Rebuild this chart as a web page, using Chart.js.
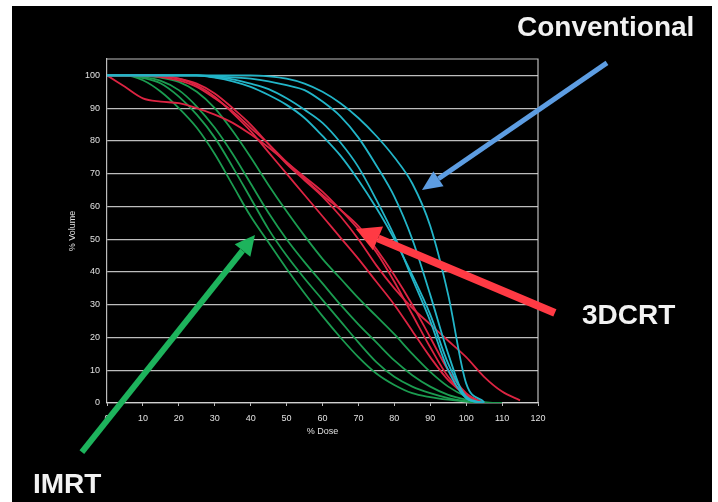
<!DOCTYPE html>
<html>
<head>
<meta charset="utf-8">
<script src="https://cdn.jsdelivr.net/npm/chart.js@4/dist/chart.umd.min.js"></script>
<style>
  body { margin: 0; background: #fff; }
  #slide { position: absolute; left: 12px; top: 6px; width: 700px; height: 496px; background: #000; }
  #chart { position: absolute; left: 0; top: 0; }
  .tag { position: absolute; color: #f2f2f2; font: bold 28px "Liberation Sans", Arial, sans-serif; line-height: 28px; white-space: nowrap; }
</style>
</head>
<body>
<div id="slide"></div>
<canvas id="chart" width="718" height="502"></canvas>
<div class="tag" style="left:517px; top:13px;">Conventional</div>
<div class="tag" style="left:582px; top:301px;">3DCRT</div>
<div class="tag" style="left:33px; top:470px;">IMRT</div>

<script>
// ================= DATA =================
const dose = [0, 5, 10, 15, 20, 25, 30, 35, 40, 45, 50, 55, 60, 65, 70, 75, 80, 85, 90, 95, 100, 105, 110, 115, 120];

// Conventional (cyan)
const conv1 = [100, 100, 100, 100, 100, 100, 100, 100, 100, 99.7, 99, 97.5, 95, 91.5, 87, 81.5, 75, 67, 54, 33, 6, 0.3];
const conv2 = [100, 100, 100, 100, 100, 100, 99.7, 99.4, 99, 98.2, 97, 95.5, 92, 87.5, 81, 72.5, 63, 50, 33, 15, 1.5, 0];
const conv3 = [100, 100, 100, 100, 100, 100, 99.5, 98.8, 97.5, 95.8, 93, 89.5, 85.5, 79.5, 72, 62, 51, 38, 25, 10, 1.5, 0];
const conv4 = [100, 100, 100, 100, 100, 100, 99.3, 98.2, 96.5, 94, 91, 87, 81.5, 75.5, 68, 59.5, 50, 39, 27, 12, 2, 0];

// 3DCRT (red)
const crt1 = [100, 96.5, 93, 92, 91.5, 90, 88, 85.5, 82, 78, 73.5, 69, 64.5, 59, 53, 46, 37, 27, 17, 8, 2.5, 0];
const crt2 = [100, 100, 100, 99.5, 98.5, 96.5, 93, 89, 84, 79, 73.5, 68.5, 63.5, 59, 54, 47, 39, 30, 20, 10, 3, 0];
const crt3 = [100, 100, 100, 99.7, 99, 97.5, 94.5, 90, 85, 79, 73, 68, 63, 57, 50, 42, 35, 29, 24, 19, 14, 8, 3.5, 0.8];
const crt4 = [100, 100, 100, 100, 99, 97, 93.5, 88.5, 83, 76.5, 70, 63.5, 57, 50.5, 44, 37, 30, 22, 14, 7, 2.5, 0];

// IMRT (green)
const imrt1 = [100, 100, 98.5, 95, 90, 84, 76, 66.5, 57, 49, 41, 33.5, 26.5, 20, 14, 9, 5.5, 3, 1.8, 1, 0.4, 0];
const imrt2 = [100, 100, 99.2, 97.5, 93.5, 88, 81, 72, 62.5, 53, 45, 38, 31.5, 25, 18.5, 12.5, 8, 5, 3, 1.5, 0.6, 0];
const imrt3 = [100, 100, 99.5, 98.3, 95.5, 90.5, 84, 76, 67, 58, 50, 43, 36.5, 30, 24, 18.5, 13, 8.5, 5, 2.5, 1, 0];
const imrt4 = [100, 100, 99.8, 99.3, 98, 95, 90, 83, 75, 66.5, 58.5, 51, 44, 38, 32, 26.5, 21, 15, 9.5, 5, 2, 0.3, 0];

// arrows: [tailDose, tailVol, tipDose, tipVol]
const arrowConv = [139.2, 103.8, 87.7, 65.0];
const arrowCrt = [124.7, 27.5, 69.3, 53.1];
const arrowImrt = [-7.0, -15.0, 41.2, 51.3];

const CYAN = "#22b5c8";
const RED = "#dc2442";
const GREEN = "#1b9c50";
const GRID = "rgba(210,210,210,0.9)";
const LABEL = "#e0e0e0";

// ================= HELPERS =================
function toPoints(vals) {
  return vals.map((v, i) => ({ x: dose[i], y: v }));
}

function curve(vals, color) {
  return {
    data: toPoints(vals),
    borderColor: color,
    borderWidth: 1.8,
    pointRadius: 0,
    fill: false,
    cubicInterpolationMode: "monotone",
  };
}

function drawArrow(ctx, x1, y1, x2, y2, color, width, headLen, headWidth) {
  const ang = Math.atan2(y2 - y1, x2 - x1);
  const bx = x2 - headLen * Math.cos(ang);
  const by = y2 - headLen * Math.sin(ang);
  ctx.save();
  ctx.strokeStyle = color;
  ctx.fillStyle = color;
  ctx.lineWidth = width;
  ctx.lineCap = "butt";
  ctx.beginPath();
  ctx.moveTo(x1, y1);
  ctx.lineTo(bx, by);
  ctx.stroke();
  const nx = -Math.sin(ang), ny = Math.cos(ang);
  ctx.beginPath();
  ctx.moveTo(x2, y2);
  ctx.lineTo(bx + nx * headWidth / 2, by + ny * headWidth / 2);
  ctx.lineTo(bx - nx * headWidth / 2, by - ny * headWidth / 2);
  ctx.closePath();
  ctx.fill();
  ctx.restore();
}

// ================= PLUGINS =================
const frame = {
  id: "frame",
  beforeDatasetsDraw(chart) {
    const { ctx, chartArea: a } = chart;
    ctx.save();
    ctx.strokeStyle = GRID;
    ctx.lineWidth = 1.2;
    ctx.beginPath();
    ctx.moveTo(a.left, a.top);
    ctx.lineTo(a.right, a.top);
    ctx.lineTo(a.right, a.bottom);
    ctx.stroke();
    ctx.restore();
  },
};

const arrows = {
  id: "arrows",
  afterDraw(chart) {
    const { ctx, scales } = chart;
    const px = (a) => [
      scales.x.getPixelForValue(a[0]), scales.y.getPixelForValue(a[1]),
      scales.x.getPixelForValue(a[2]), scales.y.getPixelForValue(a[3]),
    ];
    drawArrow(ctx, ...px(arrowConv), "#5d9de2", 5, 20, 18);
    drawArrow(ctx, ...px(arrowCrt), "#ff3a44", 8, 24, 26);
    drawArrow(ctx, ...px(arrowImrt), "#1db35c", 6, 20, 20);
  },
};

// ================= CHART =================
new Chart(document.getElementById("chart"), {
  type: "line",
  data: {
    datasets: [
      curve(conv1, CYAN), curve(conv2, CYAN), curve(conv3, CYAN), curve(conv4, CYAN),
      curve(crt1, RED), curve(crt2, RED), curve(crt3, RED), curve(crt4, RED),
      curve(imrt1, GREEN), curve(imrt2, GREEN), curve(imrt3, GREEN), curve(imrt4, GREEN),
    ],
  },
  options: {
    responsive: false,
    animation: false,
    layout: { padding: { left: 47, right: 180, top: 59, bottom: 59 } },
    plugins: { legend: { display: false }, tooltip: { enabled: false } },
    scales: {
      x: {
        type: "linear",
        min: 0,
        max: 120,
        afterFit(s) { s.height = 40; },
        ticks: { stepSize: 10, color: LABEL, font: { family: "Liberation Sans", size: 9 }, padding: 7, maxRotation: 0 },
        grid: { drawOnChartArea: false, drawTicks: true, tickLength: 3, color: GRID },
        border: { color: GRID, width: 1.2 },
        title: { display: true, text: "% Dose", color: LABEL, font: { family: "Liberation Sans", size: 9 }, padding: { top: 0, bottom: 6 } },
      },
      y: {
        type: "linear",
        min: 0,
        max: 105,
        afterFit(s) { s.width = 60; },
        afterBuildTicks(s) { s.ticks = s.ticks.filter(t => t.value <= 100); },
        ticks: { stepSize: 10, color: LABEL, font: { family: "Liberation Sans", size: 9 }, padding: 7 },
        grid: { color: GRID, lineWidth: 1.2, drawTicks: false },
        border: { color: GRID, width: 1.2 },
        title: { display: true, text: "% Volume", color: LABEL, font: { family: "Liberation Sans", size: 9 }, padding: { top: 20, bottom: 0 } },
      },
    },
  },
  plugins: [frame, arrows],
});
</script>
</body>
</html>
